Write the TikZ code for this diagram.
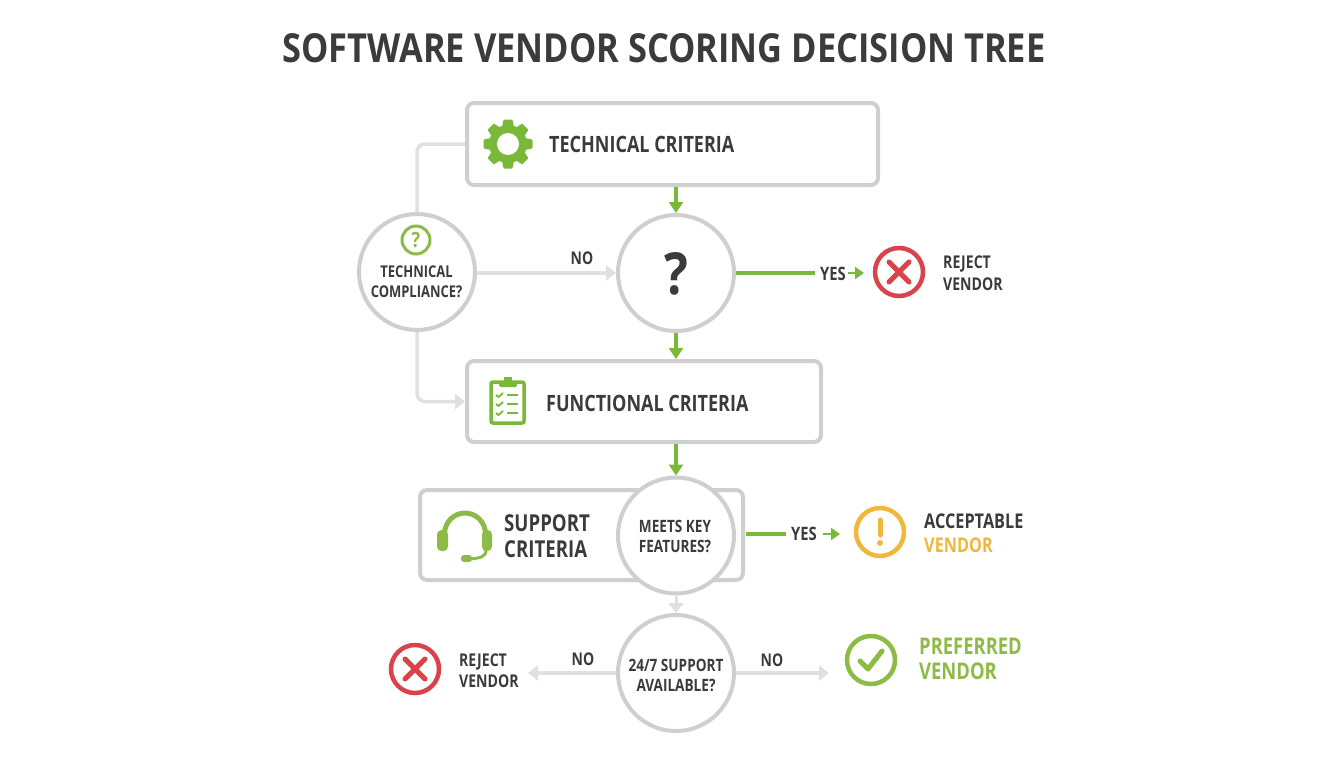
\documentclass[tikz,border=0pt]{standalone}
\usepackage{fontspec}
\setmainfont{Open Sans}[FakeStretch=0.80]
\newfontfamily\titlefont{Open Sans}[FakeStretch=0.86]
\usetikzlibrary{arrows.meta,calc}
\definecolor{bordergray}{HTML}{CFCFCF}
\definecolor{linkgray}{HTML}{E0E0E0}
\definecolor{leafgreen}{HTML}{7AB83A}
\definecolor{softgreen}{HTML}{8DBB45}
\definecolor{inkdark}{HTML}{3B3B3B}
\definecolor{alertred}{HTML}{D9444A}
\definecolor{amberc}{HTML}{F0B73C}
\newcommand{\fs}[1]{\fontsize{#1}{#1}\selectfont}
\tikzset{
  x=1pt,y=-1pt,
  critbox/.style={draw=bordergray,line width=4pt,rounded corners=7pt,fill=white,anchor=north west,inner sep=0pt,outer sep=0pt},
  decision/.style={circle,draw=bordergray,line width=4pt,fill=white,minimum size=116pt,inner sep=0pt,outer sep=0pt},
  lab/.style={text=inkdark,font=\bfseries\fs{17.5},align=center,inner sep=0pt},
  boxlab/.style={text=inkdark,font=\bfseries\fs{22.5},align=left,anchor=west,inner sep=0pt},
  leaflab/.style={text=inkdark,font=\bfseries\fs{17.6},align=left,anchor=west,inner sep=0pt},
  circlab/.style={text=inkdark,font=\bfseries\fs{17},align=center,inner sep=0pt},
  greenarrow/.style={draw=leafgreen,line width=3.5pt,-{Triangle[length=11pt,width=14pt]}},
  smallgreen/.style={draw=leafgreen,line width=2.5pt,-{Triangle[length=9pt,width=12pt]}},
  grayarrow/.style={draw=linkgray,line width=3.5pt,-{Triangle[length=10pt,width=15pt]}},
  greenline/.style={draw=leafgreen,line width=3.5pt},
  grayline/.style={draw=linkgray,line width=3.5pt,rounded corners=8pt},
  outcome/.style={circle,line width=4.5pt,minimum size=48pt,inner sep=0pt,outer sep=0pt,fill=white},
}
\begin{document}
\begin{tikzpicture}
\useasboundingbox (0,0) rectangle (1344,768);
\node[text=inkdark,font=\titlefont\bfseries\fs{40},inner sep=0pt] (title) at (664,48) {SOFTWARE VENDOR SCORING DECISION TREE};

% boxes
\node[critbox,minimum width=411pt,minimum height=82pt] (tech) at (467,103) {};
\node[critbox,minimum width=354pt,minimum height=81pt] (func) at (467,361) {};
\node[critbox,minimum width=323pt,minimum height=90pt] (supp) at (420,490) {};

% circles
\node[decision] (comp) at (417,272) {};
\node[decision] (ques) at (676,273) {};
\node[decision] (meets) at (676,535.5) {};
\node[decision] (avail) at (676,673) {};

% coordinates
\coordinate (yes1a) at (815,273);
\coordinate (yes1b) at (848,273);
\coordinate (yes2a) at (786,534);
\coordinate (yes2b) at (823,534);
\coordinate (yes2c) at (840,534);
\coordinate (yes1c) at (864,273);
\coordinate (left3) at (528,673);
\coordinate (right3) at (829,673);

% outcome circles
\node[outcome,draw=alertred] (rej1) at (899,272) {};
\node[outcome,draw=amberc] (acc) at (880,532) {};
\node[outcome,draw=alertred] (rej2) at (415,669) {};
\node[outcome,draw=softgreen] (pref) at (871,660) {};

% connectors
\draw[greenarrow] (ques.north |- tech.south) ++(0,2) -- ($(ques.north)+(0,-2)$);
\draw[greenarrow] ($(ques.south)+(0,2)$) -- ($(ques.south |- func.north)+(0,-2)$);
\draw[greenarrow] ($(meets.north |- func.south)+(0,2)$) -- ($(meets.north)+(0,-2)$);
\draw[grayline] ($(tech.west)+(-2,0)$) -- (comp.north |- tech.west) -- ($(comp.north)+(0,-2)$);
\draw[grayline,-{Triangle[length=10pt,width=15pt]}] ($(comp.south)+(0,2)$) |- ($(func.west)+(-2,0)$);
\draw[grayarrow] ($(comp.east)+(2,1)$) -- ($(ques.west)+(-2,0)$);
\draw[greenline] ($(ques.east)+(2,0)$) -- (yes1a);
\draw[smallgreen] (yes1b) -- (yes1c);
\draw[greenline] ($(supp.east |- yes2a)+(3,0)$) -- (yes2a);
\draw[smallgreen] (yes2b) -- (yes2c);
\draw[grayarrow,line width=3pt] ($(meets.south)+(0,2)$) -- ($(avail.north)+(0,-2)$);
\draw[grayarrow] ($(avail.west)+(-2,0)$) -- (left3);
\draw[grayarrow] ($(avail.east)+(2,0)$) -- (right3);

% connector labels
\node[lab] (no1) at (582,258) {NO};
\node[lab,font=\bfseries\fs{18.5}] (y1) at (833,274) {YES};
\node[lab,font=\bfseries\fs{18.5}] (y2) at (804,534) {YES};
\node[lab] (no2) at (583,659) {NO};
\node[lab] (no3) at (772,660) {NO};

% circle texts
\node[circlab,font=\bfseries\fs{16.2}] (comptext) at (416.5,282) {TECHNICAL\\[4pt]COMPLIANCE?};
\node[text=inkdark,font=\titlefont\bfseries\fs{58},inner sep=0pt] (qmark) at (676.5,274) {?};
\node[circlab] (meetstext) at (675,536) {MEETS KEY\\[3pt]FEATURES?};
\node[circlab] (availtext) at (676,675) {24/7 SUPPORT\\[3pt]AVAILABLE?};

% box texts
\node[boxlab] (techtext) at (549,144) {TECHNICAL CRITERIA};
\node[boxlab] (functext) at (546,403) {FUNCTIONAL CRITERIA};
\node[boxlab,font=\bfseries\fs{23.3}] (supptext) at (504,536) {SUPPORT\\[2.7pt]CRITERIA};

% leaf texts
\node[leaflab] (r1t) at (943,273) {REJECT\\[4.4pt]VENDOR};
\node[leaflab,font=\bfseries\fs{20.3}] (at) at (924,533) {ACCEPTABLE\\[3.7pt]\textcolor{amberc}{VENDOR}};
\node[leaflab] (r2t) at (459,670.5) {REJECT\\[3.4pt]VENDOR};
\node[leaflab,text=softgreen,font=\bfseries\fs{23}] (pt) at (919,658.5) {PREFERRED\\[2pt]VENDOR};

% outcome glyphs
\draw[alertred,line width=5pt,line cap=round] (889,262) -- (909,282) (909,262) -- (889,282);
\draw[alertred,line width=5pt,line cap=round] (405,659) -- (425,679) (425,659) -- (405,679);
\draw[softgreen,line width=5pt,line cap=round,line join=round] (860,661) -- (868,669) -- (882,651);
\draw[amberc,line width=5pt,line cap=round] (880,520) -- (880,535);
\fill[amberc] (880,543) circle (3pt);

% question-mark icon
\node[circle,draw=softgreen,line width=3pt,minimum size=28pt,inner sep=0pt,outer sep=0pt,text=softgreen,font=\titlefont\bfseries\fs{21}] (qicon) at (416,240) {?};

% gear icon
\begin{scope}[shift={(508,144)}]
\foreach \a in {0,45,...,315}{
  \fill[leafgreen,rotate=\a,rounded corners=1pt] (-4.5,-24.5) -- (4.5,-24.5) -- (6.5,-14) -- (-6.5,-14) -- cycle;
}
\fill[leafgreen] (0,0) circle (19pt);
\fill[white] (0,0) circle (11pt);
\end{scope}

% clipboard icon
\draw[leafgreen,line width=3.5pt,rounded corners=2pt,fill=white] (491,382) rectangle (524,423);
\fill[leafgreen,rounded corners=1.5pt] (499,381) rectangle (517,387);
\fill[leafgreen] (504,377) rectangle (512,382);
\foreach \yy in {395,404,413}{
  \draw[leafgreen,line width=1.8pt] (496,\yy) -- (498.5,{\yy+2}) -- (503,{\yy-2});
  \draw[leafgreen,line width=2.2pt] (507,\yy) -- (518,\yy);
}

% headset icon
\draw[softgreen,line width=5pt] (444.5,534) arc[start angle=180,end angle=0,x radius=20.5pt,y radius=21pt];
\fill[softgreen,rounded corners=4.5pt] (437,530) rectangle (448,551);
\fill[softgreen,rounded corners=4.5pt] (482,530) rectangle (492,551);
\draw[softgreen,line width=3pt] (486,550) .. controls (486,557) and (480,558) .. (470,559);
\fill[softgreen,rounded corners=3pt] (461,555) rectangle (472,562);
\end{tikzpicture}
\end{document}
